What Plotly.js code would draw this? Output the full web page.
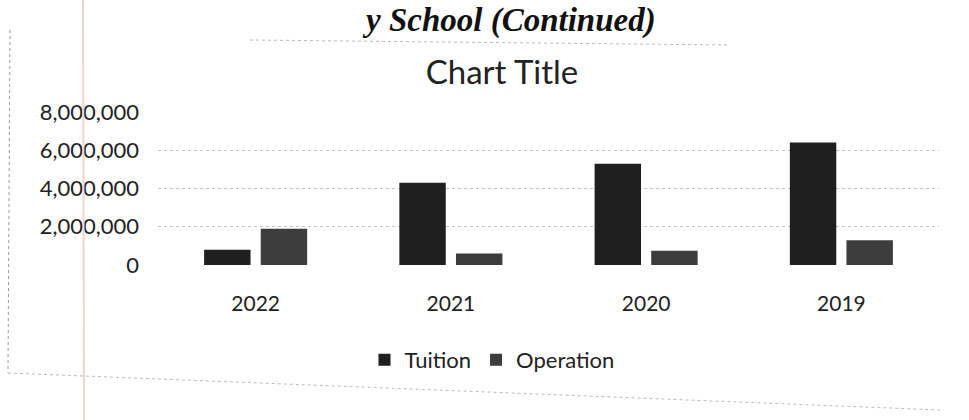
<!DOCTYPE html>
<html>
<head>
<meta charset="utf-8">
<script src="https://cdn.plot.ly/plotly-3.0.1.min.js"></script>
<style>html,body{margin:0;padding:0;background:#fff;}#chart{width:969px;height:420px;}</style>
</head>
<body>
<div id="chart"></div>
<script>
const years = ["2022", "2021", "2020", "2019"];
const tuition = [800000, 4300000, 5300000, 6400000];
const operation = [1900000, 600000, 750000, 1300000];
const tickVals = [0, 2000000, 4000000, 6000000, 8000000];
const tickText = ["0", "2,000,000", "4,000,000", "6,000,000", "8,000,000"];

const L = 158, R = 30, T = 112, B = 155, W = 969, H = 420;
const pw = W - L - R, ph = H - T - B;
const px = v => (v - L) / pw;
const py = v => (H - B - v) / ph;

const data = [
  {type: "bar", name: "Tuition", x: years, y: tuition, marker: {color: "#1f1f1f"}},
  {type: "bar", name: "Operation", x: years, y: operation, marker: {color: "#3d3d3d"}}
];
const layout = {
  width: W, height: H,
  paper_bgcolor: "#fff", plot_bgcolor: "#fff",
  font: {family: "Lato, 'Open Sans', sans-serif", color: "#222"},
  margin: {l: L, r: R, t: T, b: B},
  title: {text: "Chart Title", x: 502 / W, xanchor: "center", y: 1 - 72 / H, yanchor: "middle",
          font: {size: 33, color: "#222", family: "Lato, 'Open Sans', sans-serif"}},
  barmode: "group", bargap: 0.42, bargroupgap: 0.18,
  xaxis: {type: "category", showgrid: false, zeroline: false, showline: false, ticks: "",
          tickfont: {size: 21, color: "#222"}, ticklabelstandoff: 24},
  yaxis: {range: [0, 8000000], tickvals: tickVals, ticktext: tickText,
          showgrid: true, gridcolor: "#c4c4c4", griddash: "dot", gridwidth: 1,
          zeroline: false, showline: false, ticks: "",
          tickfont: {size: 22, color: "#222"}, ticklabelstandoff: 18},
  legend: {orientation: "h", x: px(492), xanchor: "center", y: py(360), yanchor: "middle",
           font: {size: 22, color: "#222"}},
  showlegend: true,
  annotations: [
    {text: "<b><i>y School (Continued)</i></b>", xref: "paper", yref: "paper",
     x: px(360), y: py(0), yanchor: "top", xanchor: "left", showarrow: false,
     font: {family: "'Liberation Serif', serif", size: 33, color: "#111"}}
  ],
  shapes: [
    {type: "line", xref: "paper", yref: "paper", x0: px(10), x1: px(8), y0: py(30), y1: py(373),
     line: {color: "#999", width: 1, dash: "dot"}},
    {type: "line", xref: "paper", yref: "paper", x0: px(83), x1: px(84), y0: py(0), y1: py(420),
     line: {color: "#f3d3c6", width: 2}},
    {type: "line", xref: "paper", yref: "paper", x0: px(250), x1: px(730), y0: py(40), y1: py(45),
     line: {color: "#bbb", width: 1, dash: "dot"}},
    {type: "line", xref: "paper", yref: "paper", x0: px(8), x1: px(940), y0: py(373), y1: py(410),
     line: {color: "#bbb", width: 1, dash: "dot"}}
  ]
};
Plotly.newPlot("chart", data, layout, {displayModeBar: false, staticPlot: true});
</script>
</body>
</html>
